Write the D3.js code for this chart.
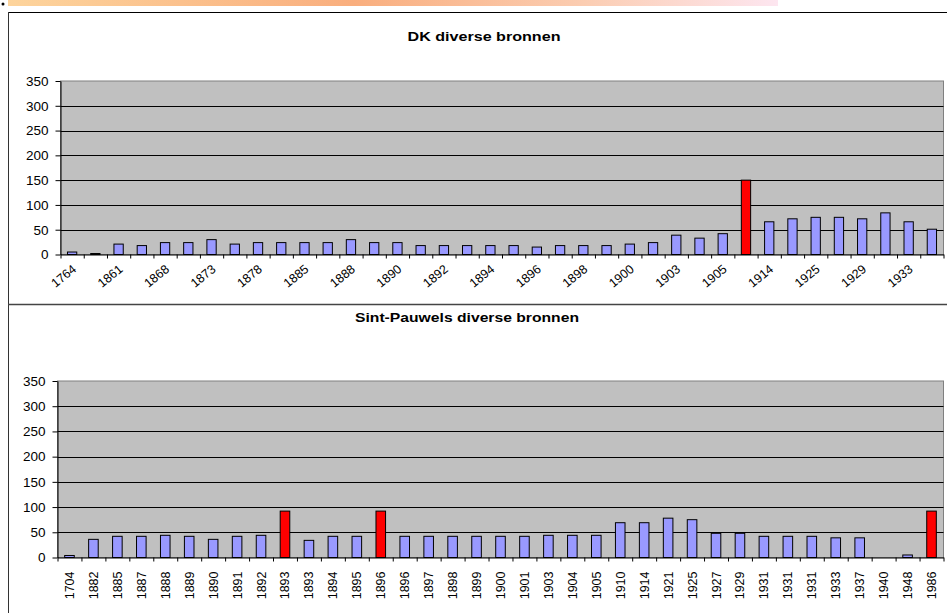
<!DOCTYPE html>
<html>
<head>
<meta charset="utf-8">
<script src="https://cdn.jsdelivr.net/npm/d3@7"></script>
<style>
  body { margin: 0; background: #fff; }
  svg { display: block; }
</style>
</head>
<body>
<svg id="chart" width="947" height="613"></svg>
<script>
// DK diverse bronnen - 38 bars, only every other category is labelled on the axis
const dkLabels = ["1764", "1861", "1868", "1873", "1878", "1885", "1888", "1890", "1892", "1894",
                  "1896", "1898", "1900", "1903", "1905", "1914", "1925", "1929", "1933"];
const dkValues = [5, 2, 21, 18, 24, 24, 30, 21, 24, 24, 24, 24, 30, 24, 24, 18, 18, 18, 18, 18,
                  15, 18, 18, 18, 21, 24, 39, 33, 42, 150, 66, 72, 75, 75, 72, 84, 66, 51];
const dkRed = [29];

// Sint-Pauwels diverse bronnen
const spLabels = ["1704", "1882", "1885", "1887", "1888", "1889", "1890", "1891", "1892", "1893",
                  "1893", "1894", "1895", "1896", "1896", "1897", "1898", "1899", "1900", "1901",
                  "1903", "1904", "1905", "1910", "1914", "1921", "1925", "1927", "1929", "1931",
                  "1931", "1931", "1933", "1937", "1940", "1948", "1986"];
const spValues = [4, 36, 42, 42, 44, 42, 36, 42, 44, 92, 34, 42, 42, 92, 42, 42, 42, 42, 42, 42,
                  44, 44, 44, 69, 69, 78, 75, 48, 48, 42, 42, 42, 39, 39, 0, 5, 92];
const spRed = [9, 13, 36];

const yTicks = [0, 50, 100, 150, 200, 250, 300, 350];

const svg = d3.select("#chart")
    .attr("font-family", "'Liberation Sans', Arial, sans-serif");

// slide decoration on top
const grad = svg.append("defs").append("linearGradient").attr("id", "band");
grad.append("stop").attr("offset", "0%").attr("stop-color", "#fdd49c");
grad.append("stop").attr("offset", "45%").attr("stop-color", "#f9ae7e");
grad.append("stop").attr("offset", "75%").attr("stop-color", "#fbcdb2");
grad.append("stop").attr("offset", "100%").attr("stop-color", "#fde6f0");
svg.append("rect").attr("x", 8).attr("y", 0).attr("width", 770).attr("height", 6).attr("fill", "url(#band)");
svg.append("circle").attr("cx", 3).attr("cy", 4).attr("r", 1.5).attr("fill", "#000");

// frames
svg.append("line").attr("x1", 8.5).attr("x2", 947).attr("y1", 12.5).attr("y2", 12.5)
    .attr("stroke", "#000").attr("stroke-width", 1);
svg.append("line").attr("x1", 8.5).attr("x2", 8.5).attr("y1", 12).attr("y2", 613)
    .attr("stroke", "#333").attr("stroke-width", 1);
svg.append("line").attr("x1", 8).attr("x2", 947).attr("y1", 304.5).attr("y2", 304.5)
    .attr("stroke", "#444").attr("stroke-width", 1.6);

function drawChart(opt) {
    const n = opt.values.length;
    const g = svg.append("g");

    const y = d3.scaleLinear().domain([0, 350]).range([opt.bottom, opt.top]);
    const xb = d3.scaleBand().domain(d3.range(n)).range([opt.left, opt.right])
        .paddingInner(0.6).paddingOuter(0.3);
    const xEdge = d3.scaleLinear().domain([0, n]).range([opt.left, opt.right]);

    // plot area
    g.append("rect")
        .attr("x", opt.left).attr("y", opt.top)
        .attr("width", opt.right - opt.left).attr("height", opt.bottom - opt.top)
        .attr("fill", "#c0c0c0").attr("stroke", "#808080").attr("stroke-width", 1);

    // gridlines
    g.selectAll(".grid").data(yTicks.slice(1, -1)).join("line")
        .attr("x1", opt.left).attr("x2", opt.right)
        .attr("y1", d => Math.round(y(d)) + 0.5).attr("y2", d => Math.round(y(d)) + 0.5)
        .attr("stroke", "#000").attr("stroke-width", 1);

    // bars
    g.selectAll(".bar").data(opt.values).join("rect")
        .attr("x", (d, i) => xb(i))
        .attr("y", d => y(d))
        .attr("width", xb.bandwidth())
        .attr("height", d => opt.bottom - y(d))
        .attr("fill", (d, i) => opt.red.includes(i) ? "#ff0000" : "#9999ff")
        .attr("stroke", d => d > 0 ? "#000" : "none")
        .attr("stroke-width", 1);

    // y axis
    const yAxis = g.append("g")
        .attr("transform", "translate(" + opt.left + ",0)")
        .call(d3.axisLeft(y).tickValues(yTicks).tickSize(5).tickPadding(7).tickSizeOuter(0));
    yAxis.select(".domain").attr("stroke", "#000");
    yAxis.selectAll("line").attr("stroke", "#000");
    yAxis.selectAll("text").attr("font-size", "13.5px").attr("fill", "#000");

    // x axis: ticks between categories
    const xAxis = g.append("g")
        .attr("transform", "translate(0," + opt.bottom + ")")
        .call(d3.axisBottom(xEdge).tickValues(d3.range(n + 1)).tickFormat("").tickSize(4).tickSizeOuter(0));
    xAxis.select(".domain").attr("stroke", "#000");
    xAxis.selectAll("line").attr("stroke", "#000");

    // category labels
    const lab = g.append("g").attr("font-size", "12.5px").attr("fill", "#000");
    if (opt.rotate === -90) {
        lab.selectAll("text").data(opt.labels).join("text")
            .attr("text-anchor", "end")
            .attr("transform", (d, i) => "translate(" + (xb(i) + xb.bandwidth() / 2 + 4.5) + "," + (opt.bottom + 14) + ") rotate(-90)")
            .text(d => d);
    } else {
        lab.selectAll("text").data(opt.labels).join("text")
            .attr("text-anchor", "end")
            .attr("transform", (d, i) => "translate(" + (xb(i * 2) + xb.bandwidth() / 2 + 5) + "," + (opt.bottom + 16) + ") rotate(" + opt.rotate + ")")
            .text(d => d);
    }

    // title
    g.append("text")
        .attr("x", opt.titleX).attr("y", opt.titleY)
        .attr("text-anchor", "middle")
        .attr("font-size", "13px").attr("font-weight", "bold")
        .attr("textLength", opt.titleW).attr("lengthAdjust", "spacingAndGlyphs")
        .text(opt.title);
}

drawChart({
    title: "DK diverse bronnen", titleX: 484, titleY: 41, titleW: 153,
    values: dkValues, labels: dkLabels, red: dkRed, rotate: -39,
    left: 60.5, right: 943.5, top: 81, bottom: 254.5
});

drawChart({
    title: "Sint-Pauwels diverse bronnen", titleX: 467, titleY: 322, titleW: 224,
    values: spValues, labels: spLabels, red: spRed, rotate: -90,
    left: 57.5, right: 943.5, top: 381, bottom: 557.5
});
</script>
</body>
</html>
